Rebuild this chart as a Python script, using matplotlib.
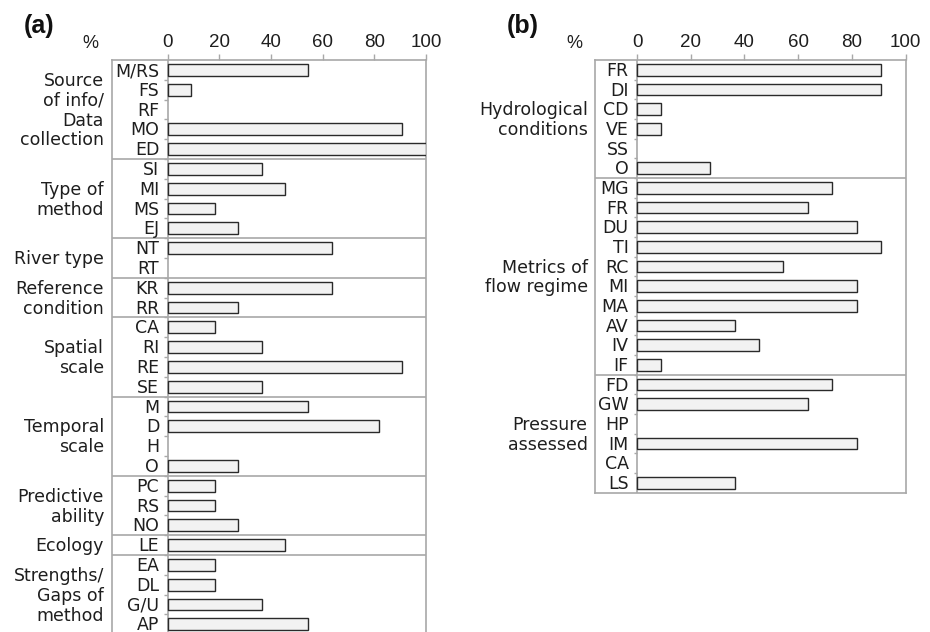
import matplotlib.pyplot as plt
import numpy as np

# panel (a)
a_labels = ["M/RS", "FS", "RF", "MO", "ED",
            "SI", "MI", "MS", "EJ",
            "NT", "RT",
            "KR", "RR",
            "CA", "RI", "RE", "SE",
            "M", "D", "H", "O",
            "PC", "RS", "NO",
            "LE",
            "EA", "DL", "G/U", "AP"]
a_values = [54.5, 9.1, 0, 90.9, 100,
            36.4, 45.5, 18.2, 27.3,
            63.6, 0,
            63.6, 27.3,
            18.2, 36.4, 90.9, 36.4,
            54.5, 81.8, 0, 27.3,
            18.2, 18.2, 27.3,
            45.5,
            18.2, 18.2, 36.4, 54.5]
a_group_names = ["Source\nof info/\nData\ncollection", "Type of\nmethod", "River type",
                 "Reference\ncondition", "Spatial\nscale", "Temporal\nscale",
                 "Predictive\nability", "Ecology", "Strengths/\nGaps of\nmethod"]
a_group_sizes = [5, 4, 2, 2, 4, 4, 3, 1, 4]

# panel (b)
b_labels = ["FR", "DI", "CD", "VE", "SS", "O",
            "MG", "FR", "DU", "TI", "RC", "MI", "MA", "AV", "IV", "IF",
            "FD", "GW", "HP", "IM", "CA", "LS"]
b_values = [90.9, 90.9, 9.1, 9.1, 0, 27.3,
            72.7, 63.6, 81.8, 90.9, 54.5, 81.8, 81.8, 36.4, 45.5, 9.1,
            72.7, 63.6, 0, 81.8, 0, 36.4]
b_group_names = ["Hydrological\nconditions", "Metrics of\nflow regime", "Pressure\nassessed"]
b_group_sizes = [6, 10, 6]

xticks = [0, 20, 40, 60, 80, 100]

W, H = 930, 632
GRAY = "#a8a8a8"
TXT = "#1e1e1e"
LAB_FONT = "DejaVu Sans"
TICK_FONT = "Liberation Sans"

fig = plt.figure(figsize=(W / 100, H / 100), dpi=100)


def panel(box_left, zero_x, right, top, pitch, labels, values,
          group_names, group_sizes, glabel_x):
    n = len(labels)
    bottom = top + n * pitch
    ax = fig.add_axes([box_left / W, 1 - bottom / H,
                       (right - box_left) / W, (bottom - top) / H])
    ppu = (right - zero_x) / 100.0  # pixels per percent
    ax.set_xlim(-(zero_x - box_left) / ppu, 100)
    ax.set_ylim(n - 0.5, -0.5)

    rows = np.arange(n)
    vals = np.array(values)
    has = vals > 0
    ax.barh(rows[has], vals[has], height=0.59, color="#f2f2f2",
            edgecolor="#2a2a2a", linewidth=1.0, zorder=3)

    # zero line, row ticks, group separators
    ax.plot([0, 0], [-0.5, n - 0.5], color=GRAY, lw=1.2, zorder=2)
    ax.hlines(rows[:-1] + 0.5, -3.5 / ppu, 0, color=GRAY, lw=1.0)
    bounds = np.cumsum(group_sizes)
    for b in bounds[:-1]:
        ax.axhline(b - 0.5, color=GRAY, lw=1.2)

    for s in ax.spines.values():
        s.set_color(GRAY)
        s.set_linewidth(1.2)

    ax.xaxis.tick_top()
    ax.set_xticks(xticks)
    ax.tick_params(axis="x", length=4, width=1.0, color=GRAY, pad=2.5,
                   labelsize=13.5, labelcolor=TXT)
    for t in ax.get_xticklabels():
        t.set_fontfamily(TICK_FONT)
    ax.set_yticks([])

    base = 0.31  # baseline offset in rows so the text sits centred
    for i, lab in enumerate(labels):
        ax.text(-8.5 / ppu, i + base, lab, ha="right", va="baseline",
                fontsize=12.5, color=TXT, family=LAB_FONT)

    starts = bounds - np.array(group_sizes)
    gx = (glabel_x - zero_x) / ppu
    for name, st, sz in zip(group_names, starts, group_sizes):
        lines = name.split("\n")
        yc = st + (sz - 1) / 2.0
        for j, line in enumerate(lines):
            y = yc + (j - (len(lines) - 1) / 2.0) + base
            ax.text(gx, y, line, ha="right", va="baseline", fontsize=12.5,
                    color=TXT, family=LAB_FONT, clip_on=False)
    return ax


panel(111.7, 167.7, 426, 60, 19.8, a_labels, a_values,
      a_group_names, a_group_sizes, 104)
panel(595, 637, 905.7, 60, 19.67, b_labels, b_values,
      b_group_names, b_group_sizes, 587.7)

for x, tag, px in [(39, "(a)", 90), (523, "(b)", 574)]:
    fig.text(x / W, 1 - 26 / H, tag, ha="center", va="center", fontsize=18,
             fontweight="bold", family=TICK_FONT, color="#111111")
    fig.text(px / W, 1 - 43 / H, "%", ha="center", va="center", fontsize=13,
             family=TICK_FONT, color=TXT)

fig.savefig("out.png", dpi=100)
